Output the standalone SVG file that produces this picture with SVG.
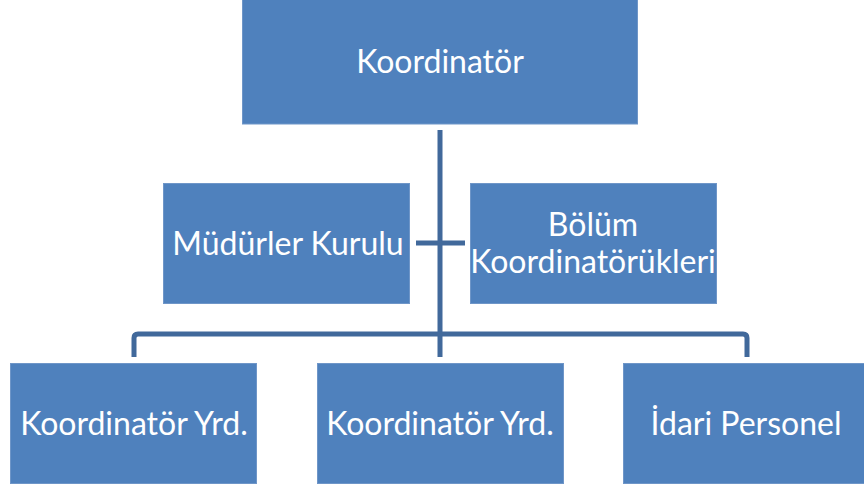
<svg xmlns="http://www.w3.org/2000/svg" width="864" height="486" viewBox="0 0 864 486">
<style>
.box{fill:#4F81BD;stroke:#6F96C8;stroke-width:1}
.t{font-family:Lato,"Open Sans","Liberation Sans",sans-serif;font-size:32px;fill:#FFFFFF;text-anchor:middle}
.c{fill:none;stroke:#41699B;stroke-width:5;stroke-linejoin:round}
</style>
<rect width="864" height="486" fill="#FFFFFF"/>
<g id="connectors">
<path class="c" d="M440,130 V357"/>
<path class="c" d="M416,243 H465"/>
<path class="c" d="M134,357 V338 Q134,334 138,334 H743 Q747,334 747,338 V357"/>
</g>
<g id="n-koordinator">
<rect class="box" x="242.5" y="-1" width="395" height="125"/>
<text class="t" x="440" y="73">Koordinatör</text>
</g>
<g id="n-mudurler">
<rect class="box" x="163.5" y="183.5" width="246" height="120"/>
<text class="t" x="288" y="255">Müdürler Kurulu</text>
</g>
<g id="n-bolum">
<rect class="box" x="470.5" y="183.5" width="246" height="120"/>
<text class="t" x="593" y="236">Bölüm</text>
<text class="t" x="593" y="273">Koordinatörükleri</text>
</g>
<g id="n-yrd1">
<rect class="box" x="10.5" y="363.5" width="246" height="120"/>
<text class="t" x="134" y="435">Koordinatör Yrd.</text>
</g>
<g id="n-yrd2">
<rect class="box" x="317.5" y="363.5" width="246" height="120"/>
<text class="t" x="440" y="435">Koordinatör Yrd.</text>
</g>
<g id="n-idari">
<rect class="box" x="623.5" y="363.5" width="246" height="120"/>
<text class="t" x="746" y="435">İdari Personel</text>
</g>
</svg>
